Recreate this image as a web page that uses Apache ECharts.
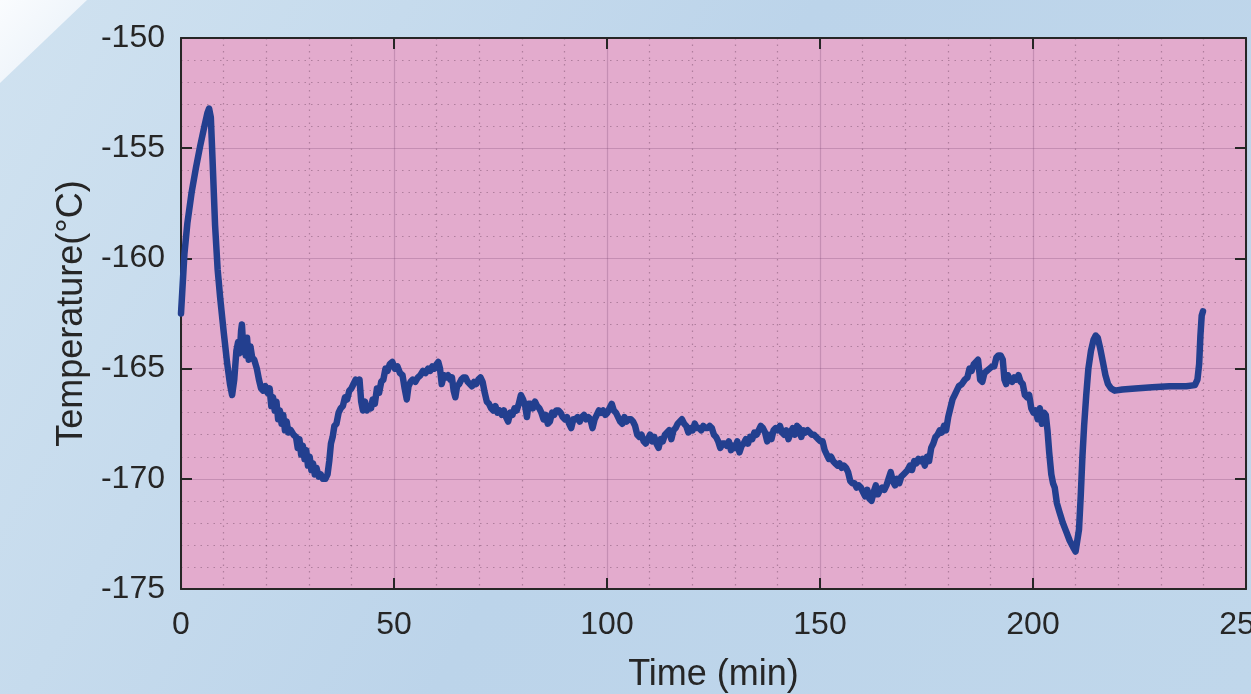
<!DOCTYPE html>
<html>
<head>
<meta charset="utf-8">
<script src="https://cdn.jsdelivr.net/npm/echarts@6/dist/echarts.min.js"></script>
<style>
html,body{margin:0;padding:0;width:1251px;height:694px;overflow:hidden;}
#chart{width:1251px;height:694px;}
</style>
</head>
<body>
<div id="chart"></div>
<script>
// ---- Data ----
const timeMin = [
0,0.3,0.8,1.5,2.5,3.5,4.5,5.5,6.2,6.6,7.0,7.4,8.0,8.6,9.2,10,10.8,11.5,12.0,
12.5,13.0,13.4,13.8,14.1,14.3,14.6,14.9,15.2,15.5,15.9,16.3,16.7,17.2,17.8,18.3,18.8,19.3,19.8,20.3,20.8,
21.2,21.6,22.0,22.4,22.8,23.2,23.6,24.0,24.4,24.8,25.2,25.8,26.4,27.0,27.4,27.8,28.2,28.6,29.0,29.4,29.8,
30.2,30.6,31.0,31.4,31.8,32.3,32.8,33.3,33.9,34.4,34.8,35.2,35.6,36.0,36.5,37.0,37.5,38.0,38.5,39.0,39.5,
40.0,40.5,41.0,41.5,41.9,42.3,42.7,43.2,43.6,44.1,44.6,45.0,45.5,46.0,46.5,47.0,47.5,48.0,48.5,49.0,49.6,
50.2,50.8,51.4,52.0,52.5,53.0,53.4,53.9,54.4,55.0,55.6,56.2,56.8,57.4,58.0,58.5,59.0,59.5,60.0,60.4,60.8,
61.2,61.7,62.2,62.7,63.2,63.6,64.0,64.4,64.8,65.3,65.8,66.3,66.8,67.3,67.8,68.3,68.8,69.3,69.8,70.3,70.8,
71.3,71.8,72.3,72.8,73.3,73.8,74.3,74.8,75.3,75.8,76.3,76.8,77.3,77.8,78.3,78.8,79.3,79.8,80.3,80.8,81.2,
81.6,82.1,82.6,83.1,83.6,84.1,84.6,85.1,85.6,86.1,86.6,87.1,87.6,88.1,88.6,89.1,89.6,90.1,90.6,91.1,91.6,
92.1,92.6,93.1,93.6,94.1,94.6,95.1,95.6,96.1,96.6,97.1,97.6,98.1,98.6,99.1,99.6,100.1,100.6,101.1,101.6,
102.1,102.6,103.1,103.6,104.1,104.6,105.1,105.6,106.1,106.6,107.1,107.6,108.1,108.6,109.1,109.6,110.1,
110.6,111.1,111.6,112.1,112.6,113.1,113.6,114.1,114.6,115.1,115.6,116.1,116.6,117.1,117.6,118.1,118.6,
119.1,119.6,120.1,120.6,121.1,121.6,122.1,122.6,123.1,123.6,124.1,124.6,125.1,125.6,126.1,126.6,127.1,
127.6,128.1,128.6,129.1,129.6,130.1,130.6,131.1,131.6,132.1,132.6,133.1,133.6,134.1,134.6,135.1,135.6,
136.1,136.6,137.1,137.6,138.1,138.6,139.1,139.6,140.1,140.6,141.1,141.6,142.1,142.6,143.1,143.6,144.1,
144.6,145.1,145.6,146.1,146.6,147.1,147.6,148.1,148.6,149.1,149.6,150.1,150.6,151.1,151.6,152.1,152.6,
153.1,153.6,154.1,154.6,155.1,155.6,156.1,156.6,157.1,157.6,158.1,158.6,159.1,159.6,160.1,160.6,161.1,
161.6,162.1,162.6,163.1,163.6,164.1,164.6,165.1,165.6,166.1,166.6,167.1,167.6,168.1,168.6,169.1,169.6,
170.1,170.6,171.1,171.6,172.1,172.6,173.1,173.6,174.1,174.6,175.1,175.6,176.1,176.6,177.1,177.6,178.1,
178.6,179.1,179.6,180.1,180.6,181.1,181.6,182.1,182.6,183.3,184.0,184.6,185.1,185.6,186.1,186.6,187.1,
187.6,188.1,188.6,189.2,189.8,190.4,190.9,191.4,191.9,192.4,192.9,193.3,193.7,194.1,194.6,195.1,195.6,
196.1,196.6,197.1,197.6,198.1,198.6,199.1,199.6,200.1,200.6,201.1,201.6,202.1,202.6,203.0,203.4,203.8,
204.3,204.7,205.1,205.6,206.2,207.0,207.8,208.6,209.4,210.0,210.4,210.8,211.2,211.6,212.0,212.5,213.0,
213.6,214.2,214.7,215.2,215.8,216.4,217.0,217.6,218.3,219.2,221,224,228,232,236,238.0,238.6,239.0,239.3,
239.6,239.9
];
const temperatureC = [
-162.5,-161.5,-159.8,-158.4,-157.0,-155.9,-154.9,-154.0,-153.4,-153.2,-153.6,-155.5,-158.5,-160.5,-161.8,-163.3,-164.7,-165.7,-166.2,
-165.5,-164.2,-163.8,-164.3,-163.3,-163.0,-164.0,-163.7,-164.4,-163.6,-164.6,-164.0,-164.5,-164.6,-165.0,-165.5,-165.9,-166.0,-165.8,-166.1,-165.9,
-166.7,-166.3,-166.9,-166.5,-167.3,-166.9,-167.5,-167.1,-167.8,-167.4,-167.9,-167.8,-168.0,-168.1,-168.6,-168.2,-168.9,-168.5,-169.1,-168.7,-169.4,
-169.0,-169.6,-169.3,-169.8,-169.5,-169.9,-169.8,-170.0,-170.0,-169.8,-169.2,-168.4,-168.1,-167.6,-167.5,-167.0,-166.8,-166.7,-166.3,-166.4,-166.0,
-165.9,-165.7,-165.5,-165.6,-165.5,-166.5,-166.9,-166.5,-166.9,-166.7,-166.8,-166.4,-166.6,-165.9,-166.1,-165.6,-165.5,-165.0,-165.1,-164.8,-164.7,
-165.0,-164.9,-165.2,-165.3,-165.9,-166.4,-165.8,-165.6,-165.5,-165.6,-165.4,-165.3,-165.1,-165.2,-165.0,-165.1,-164.9,-165.0,-164.8,-164.7,-165.0,
-165.7,-165.3,-165.4,-165.3,-165.5,-165.4,-166.0,-166.3,-165.8,-165.7,-165.5,-165.4,-165.4,-165.6,-165.7,-165.8,-165.6,-165.7,-165.5,-165.4,-165.6,
-166.1,-166.5,-166.6,-166.8,-166.9,-166.7,-167.0,-166.9,-167.1,-166.9,-167.2,-167.4,-167.0,-167.1,-166.8,-166.9,-166.6,-166.2,-166.4,-166.7,-167.2,
-166.6,-166.6,-166.8,-166.5,-166.7,-166.8,-167.0,-167.3,-167.1,-167.5,-167.4,-167.0,-167.1,-166.9,-166.9,-167.0,-167.2,-167.3,-167.2,-167.5,-167.7,
-167.3,-167.3,-167.2,-167.4,-167.2,-167.1,-167.3,-167.2,-167.3,-167.7,-167.3,-167.1,-166.9,-167.0,-166.9,-167.1,-167.0,-166.8,-166.6,-166.9,
-167.0,-167.2,-167.4,-167.5,-167.2,-167.4,-167.3,-167.3,-167.4,-167.6,-168.0,-168.1,-168.0,-168.3,-168.4,-168.2,-168.0,
-168.3,-168.1,-168.4,-168.6,-168.2,-168.3,-168.0,-167.9,-167.8,-168.2,-167.8,-167.7,-167.5,-167.4,-167.3,-167.5,-167.6,
-167.9,-167.7,-167.8,-167.5,-167.7,-167.7,-167.8,-167.6,-167.7,-167.7,-167.6,-167.7,-168.0,-168.1,-168.3,-168.6,-168.4,
-168.4,-168.5,-168.3,-168.7,-168.5,-168.6,-168.3,-168.8,-168.5,-168.4,-168.2,-168.4,-168.1,-168.2,-167.9,-168.0,-167.8,
-167.6,-167.7,-167.9,-168.3,-168.0,-168.2,-167.8,-167.7,-167.8,-167.6,-167.9,-168.0,-167.8,-168.2,-167.9,-167.7,-168.0,
-167.6,-167.7,-168.1,-167.8,-167.9,-167.8,-167.9,-168.0,-168.0,-168.1,-168.2,-168.3,-168.3,-168.7,-168.9,-169.1,-169.0,
-169.2,-169.3,-169.4,-169.3,-169.5,-169.4,-169.5,-169.7,-170.1,-170.2,-170.2,-170.4,-170.3,-170.4,-170.6,-170.8,-170.5,
-170.9,-171.0,-170.6,-170.3,-170.7,-170.5,-170.4,-170.5,-170.3,-170.0,-169.7,-170.1,-170.3,-170.0,-170.2,-169.9,-169.8,
-169.7,-169.6,-169.4,-169.6,-169.2,-169.3,-169.1,-169.2,-169.1,-169.4,-169.0,-169.2,-168.6,-168.4,-168.1,-168.0,-167.8,
-167.9,-167.6,-167.8,-167.2,-166.8,-166.4,-166.2,-166.0,-165.8,-165.7,-165.5,-165.4,-165.0,-165.1,-164.8,-164.7,-164.6,
-165.5,-165.6,-165.2,-165.1,-165.0,-164.9,-164.9,-164.5,-164.4,-164.4,-164.6,-165.5,-165.7,-165.3,-165.5,-165.6,-165.4,
-165.5,-165.3,-165.6,-165.7,-166.2,-166.3,-166.2,-166.8,-167.0,-166.9,-167.3,-166.8,-167.5,-167.0,-167.1,-167.8,-168.8,
-169.8,-170.2,-170.4,-171.1,-171.5,-172.0,-172.4,-172.8,-173.1,-173.3,-173.3,-172.3,-170.8,-169.0,-167.6,-166.2,-165.0,
-164.2,-163.7,-163.5,-163.6,-164.1,-164.7,-165.3,-165.7,-165.9,-166.0,-165.95,-165.9,-165.85,-165.8,-165.8,-165.75,-165.5,-164.8,-163.5,
-162.6,-162.4
];
const xTicks = [0, 50, 100, 150, 200, 250];
const yTicks = [-175, -170, -165, -160, -155, -150];

const seriesData = timeMin.map((t, i) => [t, temperatureC[i]]);

const txt = '#262626';
const font = 'Liberation Sans, Arial, Helvetica, sans-serif';
const majorGrid = { show: true, lineStyle: { color: 'rgba(120,70,110,0.28)', width: 1.2, type: 'solid' } };
const minorGrid = { show: true, lineStyle: { color: 'rgba(110,70,100,0.45)', width: 1.2, type: [1.5, 5] } };

const chart = echarts.init(document.getElementById('chart'), null, { renderer: 'canvas' });
chart.setOption({
  animation: false,
  backgroundColor: {
    type: 'linear', x: 0, y: 0, x2: 1, y2: 1,
    colorStops: [
      { offset: 0, color: '#d0e2f0' },
      { offset: 0.5, color: '#bcd4ea' },
      { offset: 1, color: '#c0d7eb' }
    ]
  },
  graphic: [{
    type: 'polygon', z: -10, silent: true,
    shape: { points: [[0, 0], [87, 0], [0, 83]] },
    style: {
      fill: {
        type: 'linear', x: 0, y: 0, x2: 1, y2: 1,
        colorStops: [{ offset: 0, color: '#fafcfe' }, { offset: 1, color: '#e6eff8' }]
      }
    }
  }],
  grid: {
    left: 181, top: 38, right: 5, bottom: 105,
    outerBoundsMode: 'none', containLabel: false,
    show: true, backgroundColor: '#e3abcd', borderWidth: 0
  },
  xAxis: [{
    type: 'value', min: xTicks[0], max: xTicks[xTicks.length - 1], interval: 50,
    position: 'bottom',
    name: 'Time (min)', nameLocation: 'middle', nameGap: 68,
    nameTextStyle: { color: txt, fontSize: 36, fontFamily: font },
    axisLine: { show: true, onZero: false, lineStyle: { color: txt, width: 2 } },
    axisTick: { show: true, inside: true, length: 11, lineStyle: { color: txt, width: 2 } },
    axisLabel: { color: txt, fontSize: 32, fontFamily: font, margin: 20, showMaxLabel: true },
    splitLine: majorGrid,
    minorTick: { show: false, splitNumber: 5 },
    minorSplitLine: minorGrid
  }, {
    type: 'value', min: 0, max: 250, interval: 50, position: 'top',
    axisLine: { show: true, onZero: false, lineStyle: { color: txt, width: 2 } },
    axisTick: { show: true, inside: true, length: 11, lineStyle: { color: txt, width: 2 } },
    axisLabel: { show: false }, splitLine: { show: false }
  }],
  yAxis: [{
    type: 'value', min: yTicks[0], max: yTicks[yTicks.length - 1], interval: 5,
    position: 'left',
    name: 'Temperature(°C)', nameLocation: 'middle', nameGap: 88,
    nameTextStyle: { color: txt, fontSize: 36, fontFamily: font },
    axisLine: { show: true, onZero: false, lineStyle: { color: txt, width: 2 } },
    axisTick: { show: true, inside: true, length: 11, lineStyle: { color: txt, width: 2 } },
    axisLabel: { color: txt, fontSize: 32, fontFamily: font, margin: 16 },
    splitLine: majorGrid,
    minorTick: { show: false, splitNumber: 5 },
    minorSplitLine: minorGrid
  }, {
    type: 'value', min: -175, max: -150, interval: 5, position: 'right',
    axisLine: { show: true, onZero: false, lineStyle: { color: txt, width: 2 } },
    axisTick: { show: true, inside: true, length: 11, lineStyle: { color: txt, width: 2 } },
    axisLabel: { show: false }, splitLine: { show: false }
  }],
  series: [{
    type: 'line', xAxisIndex: 0, yAxisIndex: 0,
    data: seriesData, showSymbol: false, symbol: 'none',
    lineStyle: { color: '#233f8f', width: 6.5, join: 'round', cap: 'round' },
    clip: false
  }]
});
</script>
</body>
</html>
